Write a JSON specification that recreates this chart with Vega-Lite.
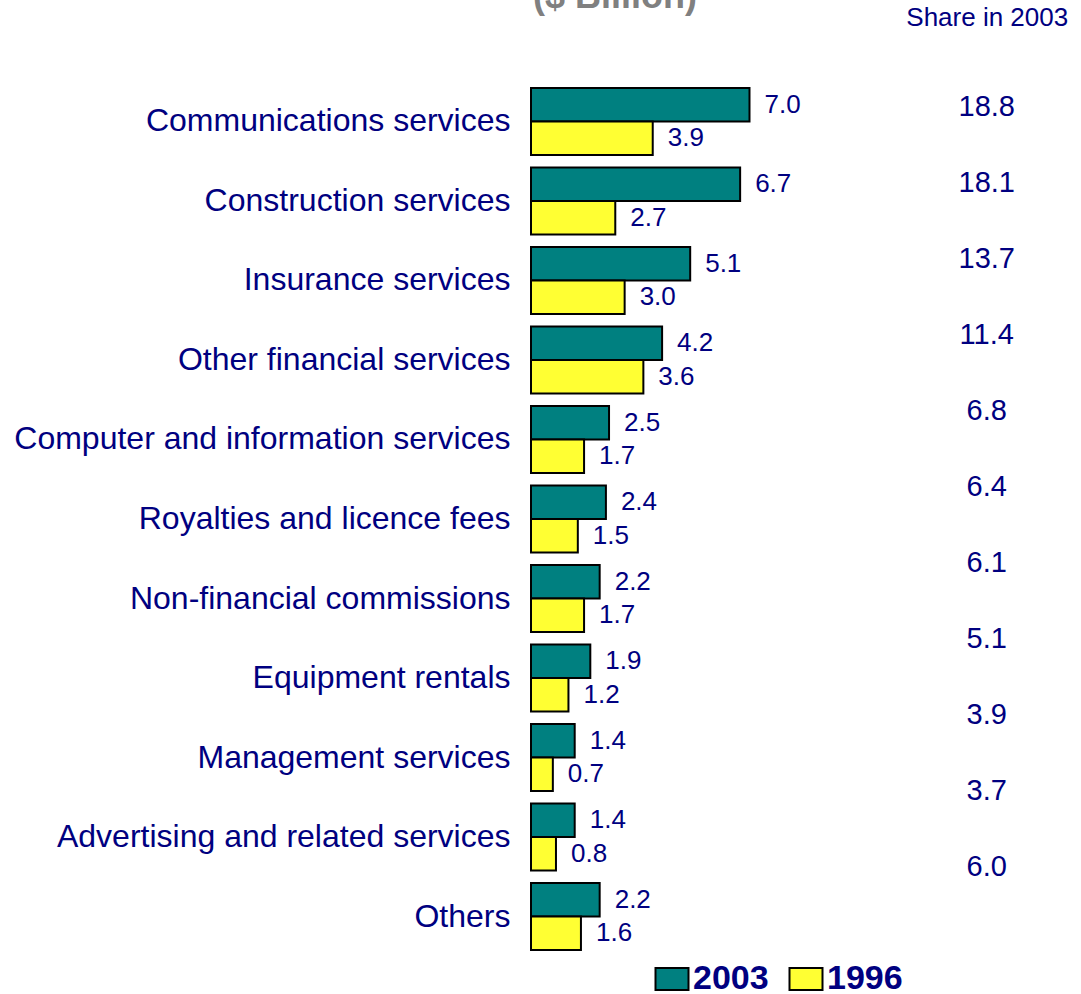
{
  "$schema": "https://vega.github.io/schema/vega-lite/v6.json",
  "width": 540,
  "height": 874,
  "autosize": "none",
  "padding": {"left": 531, "top": 82, "right": 10, "bottom": 38},
  "background": "white",
  "config": {"font": "Liberation Sans", "view": {"stroke": null}},
  "title": {
    "text": "($ Billion)",
    "fontSize": 36,
    "fontWeight": "bold",
    "color": "#808080",
    "anchor": "middle",
    "frame": "group",
    "dx": -186,
    "dy": 12,
    "offset": 0
  },
  "datasets": {
    "bars": [
      {"category": "Communications services", "year": "2003", "value": 7.0},
      {"category": "Communications services", "year": "1996", "value": 3.9},
      {"category": "Construction services", "year": "2003", "value": 6.7},
      {"category": "Construction services", "year": "1996", "value": 2.7},
      {"category": "Insurance services", "year": "2003", "value": 5.1},
      {"category": "Insurance services", "year": "1996", "value": 3.0},
      {"category": "Other financial services", "year": "2003", "value": 4.2},
      {"category": "Other financial services", "year": "1996", "value": 3.6},
      {"category": "Computer and information services", "year": "2003", "value": 2.5},
      {"category": "Computer and information services", "year": "1996", "value": 1.7},
      {"category": "Royalties and licence fees", "year": "2003", "value": 2.4},
      {"category": "Royalties and licence fees", "year": "1996", "value": 1.5},
      {"category": "Non-financial commissions", "year": "2003", "value": 2.2},
      {"category": "Non-financial commissions", "year": "1996", "value": 1.7},
      {"category": "Equipment rentals", "year": "2003", "value": 1.9},
      {"category": "Equipment rentals", "year": "1996", "value": 1.2},
      {"category": "Management services", "year": "2003", "value": 1.4},
      {"category": "Management services", "year": "1996", "value": 0.7},
      {"category": "Advertising and related services", "year": "2003", "value": 1.4},
      {"category": "Advertising and related services", "year": "1996", "value": 0.8},
      {"category": "Others", "year": "2003", "value": 2.2},
      {"category": "Others", "year": "1996", "value": 1.6}
    ],
    "shares": [
      {"category": "Communications services", "header": "Share in 2003", "share": 18.8},
      {"category": "Construction services", "header": "Share in 2003", "share": 18.1},
      {"category": "Insurance services", "header": "Share in 2003", "share": 13.7},
      {"category": "Other financial services", "header": "Share in 2003", "share": 11.4},
      {"category": "Computer and information services", "header": "Share in 2003", "share": 6.8},
      {"category": "Royalties and licence fees", "header": "Share in 2003", "share": 6.4},
      {"category": "Non-financial commissions", "header": "Share in 2003", "share": 6.1},
      {"category": "Equipment rentals", "header": "Share in 2003", "share": 5.1},
      {"category": "Management services", "header": "Share in 2003", "share": 3.9},
      {"category": "Advertising and related services", "header": "Share in 2003", "share": 3.7},
      {"category": "Others", "header": "Share in 2003", "share": 6.0}
    ]
  },
  "layer": [
    {
      "data": {"name": "bars"},
      "encoding": {
        "y": {
          "field": "category",
          "type": "nominal",
          "sort": null,
          "scale": {"paddingInner": 0.157, "paddingOuter": 0.075},
          "axis": {
            "title": null,
            "ticks": false,
            "domain": false,
            "labelFontSize": 32,
            "labelColor": "#000080",
            "labelPadding": 21,
            "labelLimit": 600
          }
        },
        "yOffset": {
          "field": "year",
          "type": "nominal",
          "sort": ["2003", "1996"],
          "scale": {"paddingInner": 0, "paddingOuter": 0}
        },
        "x": {
          "field": "value",
          "type": "quantitative",
          "scale": {"domain": [0, 17.3], "nice": false, "zero": true},
          "axis": null
        }
      },
      "layer": [
        {
          "mark": {"type": "bar", "stroke": "black", "strokeWidth": 2, "opacity": 1},
          "encoding": {
            "fill": {
              "field": "year",
              "type": "nominal",
              "sort": ["2003", "1996"],
              "scale": {"domain": ["2003", "1996"], "range": ["#008080", "#FFFF33"]},
              "legend": {
                "title": null,
                "orient": "none",
                "direction": "horizontal",
                "legendX": 124,
                "legendY": 880,
                "symbolType": "M-1.5,-1H1.5V1H-1.5Z",
                "symbolSize": 484,
                "symbolStrokeColor": "black",
                "symbolStrokeWidth": 2,
                "symbolOpacity": 1,
                "labelFontSize": 34,
                "labelFontWeight": "bold",
                "labelColor": "#000080",
                "labelOffset": 4,
                "columnPadding": 16
              }
            }
          }
        },
        {
          "mark": {"type": "text", "align": "left", "baseline": "middle", "dx": 15, "fontSize": 26, "color": "#000080"},
          "encoding": {
            "text": {"field": "value", "type": "quantitative", "format": ".1f"}
          }
        }
      ]
    },
    {
      "data": {"name": "shares"},
      "mark": {"type": "text", "align": "center", "baseline": "middle", "fontSize": 29, "color": "#000080"},
      "encoding": {
        "x": {
          "field": "header",
          "type": "nominal",
          "scale": {"type": "point", "padding": 0, "align": 0.844},
          "axis": {
            "orient": "top",
            "title": null,
            "ticks": false,
            "domain": false,
            "labelFontSize": 26,
            "labelColor": "#000080",
            "labelPadding": 52,
            "labelAngle": 0
          }
        },
        "y": {
          "field": "category",
          "type": "nominal",
          "sort": null,
          "scale": {"type": "point", "padding": 0.75, "align": 0.219},
          "axis": null
        },
        "text": {"field": "share", "type": "quantitative", "format": ".1f"}
      }
    }
  ],
  "resolve": {"scale": {"x": "independent", "y": "independent"}}
}
